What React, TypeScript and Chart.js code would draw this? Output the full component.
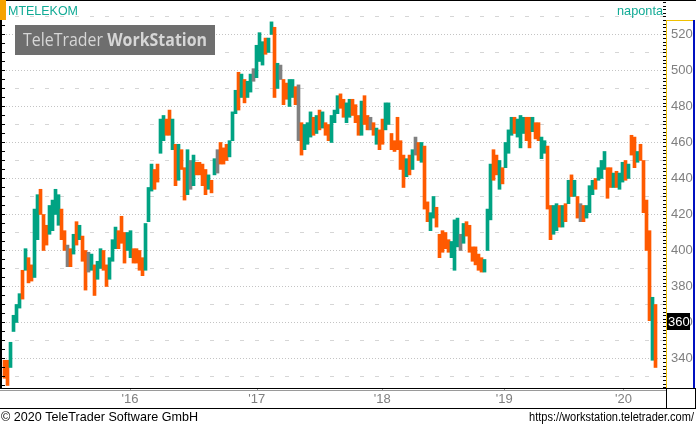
import { useEffect, useRef } from 'react';
import { Chart, registerables } from 'chart.js';
Chart.register(...registerables);

// Period highs / lows (HUF), oldest first (early 2015 .. March 2020)
const highs = [
  339, 339, 349, 364, 370, 376, 389, 401, 396, 392,
  423, 431, 434, 420, 414, 425, 428, 434, 431, 423,
  411, 403, 401, 409, 416, 414, 408, 400, 399, 398,
  392, 394, 401, 400, 392, 396, 406, 413, 411, 419,
  410, 410, 411, 401, 401, 400, 396, 415, 435, 448,
  445, 448, 473, 475, 473, 478, 473, 459, 459, 456,
  446, 456, 450, 453, 449, 449, 448, 445, 442, 439,
  451, 456, 460, 457, 459, 461, 477, 489, 499, 498,
  495, 494, 498, 501, 514, 521, 516, 518, 518, 527,
  524, 504, 503, 495, 493, 495, 495, 491, 492, 471,
  470, 471, 477, 474, 475, 478, 477, 471, 470, 475,
  478, 486, 487, 484, 482, 484, 484, 481, 475, 483,
  486, 475, 474, 471, 468, 467, 473, 482, 482, 465,
  461, 474, 461, 453, 451, 453, 456, 463, 460, 460,
  458, 427, 421, 430, 424, 409, 411, 410, 406, 405,
  417, 418, 409, 415, 416, 414, 402, 402, 398, 396,
  395, 423, 448, 456, 453, 450, 446, 460, 467, 474,
  474, 473, 475, 474, 474, 474, 474, 471, 471, 463,
  461, 458, 425, 425, 426, 425, 425, 426, 439, 442,
  439, 430, 426, 425, 425, 436, 439, 440, 446, 450,
  455, 446, 446, 443, 444, 443, 449, 450, 448, 464,
  463, 455, 459, 450, 428, 411, 374, 370,
];
const lows = [
  329, 325, 335, 355, 360, 368, 373, 389, 382, 383,
  385, 406, 420, 400, 403, 409, 411, 420, 414, 406,
  400, 391, 391, 398, 403, 406, 394, 378, 388, 389,
  375, 384, 390, 389, 380, 384, 394, 401, 401, 404,
  393, 400, 396, 393, 393, 389, 386, 389, 416, 433,
  434, 438, 454, 461, 464, 464, 456, 436, 439, 445,
  428, 431, 434, 436, 442, 442, 436, 431, 434, 432,
  442, 443, 448, 448, 450, 452, 461, 476, 478, 485,
  482, 485, 488, 494, 496, 505, 503, 509, 510, 520,
  485, 490, 495, 481, 484, 480, 485, 481, 461, 453,
  456, 459, 463, 464, 465, 467, 468, 464, 461, 460,
  471, 476, 479, 474, 471, 474, 475, 471, 464, 464,
  470, 467, 467, 464, 459, 456, 459, 467, 470, 456,
  455, 456, 445, 435, 441, 442, 445, 453, 450, 449,
  423, 416, 411, 418, 413, 396, 399, 401, 399, 396,
  389, 402, 400, 404, 408, 399, 394, 392, 389, 388,
  388, 400, 417, 439, 442, 434, 437, 446, 454, 464,
  465, 463, 457, 465, 461, 457, 466, 462, 461, 451,
  454, 423, 406, 409, 411, 413, 413, 416, 426, 430,
  430, 418, 416, 416, 418, 421, 431, 434, 439, 440,
  445, 429, 435, 435, 435, 434, 438, 439, 440, 453,
  446, 449, 450, 421, 400, 361, 339, 335,
];
// u = up, d = down, n = unchanged
const moves =
  'dduuuududd' + 'uuddduuuud' + 'dndududdnu' + 'duudduuudd' + 'duudddduuu' +
  'dduuddudud' + 'dunuddddud' + 'unddduuudu' + 'duunuuuduu' + 'dundduudnd' +
  'uuudududdu' + 'uudduudddu' + 'ddndudduud' + 'ddddudundu' + 'dduudddddu' +
  'uunudddddd' + 'uuudduduuu' + 'duuudduddu' + 'udduududud' + 'udnduuuduu' +
  'udduduudud' + 'duddddud';

const yearTickIndex = [41.8, 84.1, 125.9, 166.6, 206.3];
const yearLabels = ["'16", "'17", "'18", "'19", "'20"];
const priceGrid = [330, 340, 350, 360, 370, 380, 390, 400, 410, 420, 430, 440, 450, 460, 470, 480, 490, 500, 510, 520, 530];
const lastPrice = 360.3;
const symbol = 'MTELEKOM';
const periodName = 'naponta';
const copyright = '\u00A9 2020 TeleTrader Software GmbH';
const siteUrl = 'https://workstation.teletrader.com/';

const TEAL = '#00a383';
const ORANGE = '#ff5a00';
const GRAY = '#808080';
const FONT = '"Liberation Sans", Arial, sans-serif';

export default function App() {
  const ref = useRef<HTMLCanvasElement>(null);

  useEffect(() => {
    const canvas = ref.current!;
    const colors = highs.map((_, i) => (moves[i] === 'u' ? TEAL : moves[i] === 'd' ? ORANGE : GRAY));
    const data = highs.map((h, i) => ({ x: i, y: [lows[i], h] }));

    const deco = {
      id: 'deco',
      beforeDraw(chart: any) {
        const ctx = chart.ctx;
        ctx.save();
        ctx.fillStyle = '#ffffff';
        ctx.fillRect(0, 0, chart.width, chart.height);
        ctx.restore();
      },
      afterDraw(chart: any) {
        const ctx = chart.ctx;
        const ys = chart.scales.y;
        const xs = chart.scales.x;
        const W = chart.width;
        ctx.save();
        // frame
        ctx.fillStyle = '#000';
        ctx.fillRect(0, 0, W, 1);
        ctx.fillRect(0, 0, 2, 389);
        // left minor ticks
        for (let v = 325; v <= 538; v += 5) {
          const py = Math.round(ys.getPixelForValue(v));
          ctx.fillRect(2, py, 3, 1);
        }
        // right minor ticks
        for (let v = 324; v <= 538; v += 2) {
          const py = Math.round(ys.getPixelForValue(v));
          ctx.fillRect(663, py, 3, 1);
        }
        // orange marker
        ctx.fillStyle = '#f5a300';
        ctx.fillRect(0, 0, 6, 20);
        // titles
        ctx.fillStyle = '#12ab96';
        ctx.font = '13px ' + FONT;
        ctx.textBaseline = 'alphabetic';
        ctx.textAlign = 'left';
        ctx.fillText(symbol, 8, 15, 70);
        ctx.textAlign = 'right';
        ctx.fillText(periodName, 663, 15, 46);
        // watermark
        ctx.fillStyle = '#6e6e6e';
        ctx.fillRect(15, 25, 200, 30);
        ctx.fillStyle = '#d6d6d6';
        ctx.textAlign = 'left';
        ctx.font = '18px "Open Sans", sans-serif';
        const w1 = ctx.measureText('TeleTrader ').width;
        ctx.font = 'bold 18px "Open Sans", sans-serif';
        const w2 = ctx.measureText('WorkStation').width;
        const s = 184 / (w1 + w2);
        ctx.save();
        ctx.translate(23, 46);
        ctx.scale(s, 1);
        ctx.font = '18px "Open Sans", sans-serif';
        ctx.fillText('TeleTrader ', 0, 0);
        ctx.font = 'bold 18px "Open Sans", sans-serif';
        ctx.fillText('WorkStation', w1, 0);
        ctx.restore();
        // right panel
        ctx.fillStyle = '#f0c000';
        ctx.fillRect(666, 20, 1, 368);
        ctx.fillRect(666, 20, 28, 1);
        ctx.fillStyle = '#0010c0';
        ctx.fillRect(693, 20, 2, 368);
        // bottom lines
        ctx.fillStyle = '#000';
        ctx.fillRect(0, 388, W, 1);
        ctx.fillRect(0, 408, W, 1);
        ctx.fillRect(666, 388, 1, 20);
        ctx.fillRect(695, 388, 1, 20);
        ctx.fillStyle = '#9a9a9a';
        ctx.fillRect(0, 390, 666, 1);
        for (const t of yearTickIndex) {
          const px = Math.round(xs.getPixelForValue(t));
          ctx.fillRect(px, 389, 1, 2);
        }
        // footer
        ctx.fillStyle = '#000';
        ctx.textAlign = 'left';
        ctx.font = '13px ' + FONT;
        ctx.fillText(copyright, 1, 421, 197);
        ctx.textAlign = 'right';
        ctx.font = '12.5px ' + FONT;
        ctx.fillText(siteUrl, 694, 421, 165);
        // last price box
        const py = ys.getPixelForValue(lastPrice);
        ctx.fillStyle = '#000';
        ctx.fillRect(667, Math.round(py - 9), 23, 17);
        ctx.fillStyle = '#fff';
        ctx.textAlign = 'left';
        ctx.textBaseline = 'middle';
        ctx.font = '13px ' + FONT;
        ctx.fillText(String(Math.round(lastPrice)), 668, py);
        ctx.restore();
      },
    };

    const chart = new Chart(canvas, {
      type: 'bar',
      data: {
        datasets: [
          {
            data: data as any,
            backgroundColor: colors,
            borderWidth: 0,
            barPercentage: 1,
            categoryPercentage: 1,
          } as any,
        ],
      },
      options: {
        animation: false,
        responsive: false,
        maintainAspectRatio: false,
        devicePixelRatio: 1,
        layout: { padding: { left: 1, top: 1, right: 0, bottom: 0 } },
        plugins: { legend: { display: false }, tooltip: { enabled: false } },
        scales: {
          x: {
            type: 'linear',
            min: -1.17,
            max: 220.5,
            offset: false,
            grid: { display: false, drawTicks: false },
            border: { display: false },
            afterBuildTicks: (s: any) => {
              s.ticks = yearTickIndex.map((v) => ({ value: v }));
            },
            afterFit: (s: any) => {
              s.height = 37;
              s.paddingLeft = 0;
              s.paddingRight = 0;
            },
            ticks: {
              color: '#7f7f7f',
              font: { family: FONT, size: 13 },
              padding: 4,
              maxRotation: 0,
              autoSkip: false,
              callback: (v: any) => {
                const k = yearTickIndex.indexOf(v);
                return k >= 0 ? yearLabels[k] : '';
              },
            },
          },
          y: {
            position: 'right',
            min: 323.6,
            max: 538.6,
            afterBuildTicks: (s: any) => {
              s.ticks = priceGrid.map((v) => ({ value: v }));
            },
            afterFit: (s: any) => {
              s.width = 30;
              s.paddingTop = 0;
              s.paddingBottom = 0;
            },
            grid: {
              drawTicks: false,
              lineWidth: 1,
              color: (c: any) => (c.tick && c.tick.value % 20 === 0 ? '#c4c4c4' : '#d6d6d6'),
            },
            border: {
              display: false,
              dash: (c: any) => (c.tick && c.tick.value % 20 === 0 ? [1, 2] : [4, 11]),
              dashOffset: 1,
            },
            ticks: {
              padding: 5,
              color: '#7f7f7f',
              font: { family: FONT, size: 13 },
              callback: (v: any) => (Number(v) % 20 === 0 ? String(v) : ''),
            },
          },
        },
      } as any,
      plugins: [deco],
    });
    return () => chart.destroy();
  }, []);

  return (
    <div style={{ position: 'fixed', left: 0, top: 0, width: 696, height: 425, background: '#fff' }}>
      <canvas ref={ref} width={696} height={425} style={{ display: 'block', width: 696, height: 425 }} />
    </div>
  );
}
